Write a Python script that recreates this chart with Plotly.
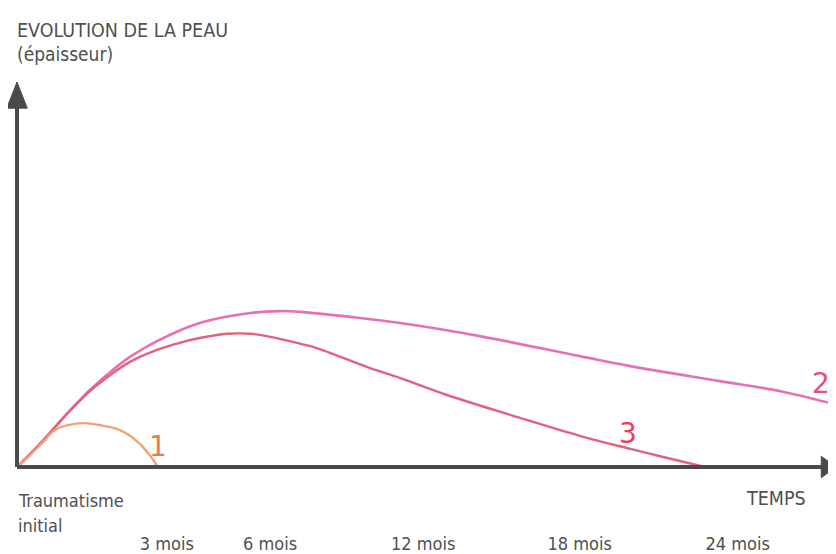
import plotly.graph_objects as go

# ---- data (schematic units: time 0-100 along the axis, thickness 0-100) ----
tick_labels = ["3 mois", "6 mois", "12 mois", "18 mois", "24 mois"]
tick_pos = [18.3, 30.9, 49.6, 68.7, 88.0]

c1_x = [0, 1.6, 3.4, 4.6, 6.2, 8.1, 10.1, 12.2, 13.8, 15.0, 16.2, 17.2]
c1_y = [0, 3.1, 7.0, 9.6, 10.9, 11.4, 10.9, 9.9, 8.1, 6.0, 3.1, 0]

c2_x = [0, 2.8, 6.1, 8.9, 11.4, 13.8, 17.1, 22.3, 28.5, 32.1, 34.6, 40.7,
        46.8, 56.5, 68.7, 74.9, 85.8, 93.2, 99.3]
c2_y = [0, 6.0, 13.8, 20.0, 24.7, 28.6, 32.7, 37.4, 40.0, 40.5, 40.3, 39.0,
        37.4, 34.0, 28.8, 26.2, 22.3, 19.7, 16.6]

c3_x = [0, 2.8, 6.1, 8.9, 11.4, 13.8, 17.1, 20.3, 22.3, 25.6, 28.5, 30.5,
        34.6, 36.6, 42.7, 46.8, 52.5, 60.6, 68.7, 74.9, 78.9, 84.0]
c3_y = [0, 6.0, 13.8, 19.7, 23.9, 27.3, 30.4, 32.5, 33.5, 34.6, 34.6, 34.0,
        32.0, 30.9, 26.0, 23.1, 18.7, 13.3, 8.1, 4.7, 2.6, 0]

curve_names = ["1", "2", "3"]

FONT = "Liberation Sans Narrow, Arial Narrow, DejaVu Sans Condensed, sans-serif"
TXT = "#505050"
AX = "#4a4a4a"

fig = go.Figure()
fig.add_trace(go.Scatter(x=c2_x, y=c2_y, mode="lines", line=dict(color="#e670b2", width=2.6, shape="spline"),
                         name=curve_names[1], hoverinfo="skip"))
fig.add_trace(go.Scatter(x=c3_x, y=c3_y, mode="lines", line=dict(color="#e3607e", width=2.4, shape="spline"),
                         name=curve_names[2], hoverinfo="skip"))
fig.add_trace(go.Scatter(x=c1_x, y=c1_y, mode="lines", line=dict(color="#f2a272", width=2.4, shape="spline"),
                         name=curve_names[0], hoverinfo="skip"))

# axes with arrowheads
fig.add_shape(type="line", xref="paper", yref="paper", x0=0, y0=0, x1=0.985, y1=0,
              line=dict(color=AX, width=4))
fig.add_shape(type="line", xref="paper", yref="paper", x0=0, y0=0, x1=0, y1=0.935,
              line=dict(color=AX, width=4))
fig.add_shape(type="path", xref="paper", yref="paper",
              path="M 0.982 0.028 L 1.0 0 L 0.982 -0.028 Z", fillcolor=AX, line=dict(color=AX, width=1))
fig.add_shape(type="path", xref="paper", yref="paper",
              path="M -0.0125 0.932 L 0 1.0 L 0.0125 0.932 Z", fillcolor=AX, line=dict(color=AX, width=1))

# curve labels
fig.add_annotation(x=17.2, y=5.2, text=curve_names[0], showarrow=False,
                   font=dict(family="DejaVu Sans", size=28, color="#f07848"))
fig.add_annotation(x=98.2, y=21.8, text=curve_names[1], showarrow=False,
                   font=dict(family="DejaVu Sans", size=28, color="#e0507e"))
fig.add_annotation(x=74.6, y=8.6, text=curve_names[2], showarrow=False,
                   font=dict(family="DejaVu Sans", size=28, color="#e84058"))

# texts
fig.add_annotation(xref="paper", yref="paper", x=-0.003, y=1.135, xanchor="left", yanchor="middle",
                   text="EVOLUTION DE LA PEAU", showarrow=False, font=dict(family=FONT, size=19.5, color=TXT))
fig.add_annotation(xref="paper", yref="paper", x=-0.003, y=1.073, xanchor="left", yanchor="middle",
                   text="(épaisseur)", showarrow=False, font=dict(family=FONT, size=19, color=TXT))
fig.add_annotation(xref="paper", yref="paper", x=-0.001, y=-0.086, xanchor="left", yanchor="middle",
                   text="Traumatisme", showarrow=False, font=dict(family=FONT, size=18, color=TXT))
fig.add_annotation(xref="paper", yref="paper", x=-0.001, y=-0.151, xanchor="left", yanchor="middle",
                   text="initial", showarrow=False, font=dict(family=FONT, size=18, color=TXT))
fig.add_annotation(xref="paper", yref="paper", x=0.927, y=-0.081, xanchor="center", yanchor="middle",
                   text="TEMPS", showarrow=False, font=dict(family=FONT, size=19.5, color=TXT))

fig.update_layout(
    width=828, height=546,
    margin=dict(l=9, r=0, t=74, b=87),
    paper_bgcolor="white", plot_bgcolor="white",
    showlegend=False,
    xaxis=dict(range=[0, 100], showgrid=False, zeroline=False, showline=False, ticks="",
               tickmode="array", tickvals=tick_pos, ticktext=tick_labels,
               tickfont=dict(family=FONT, size=18, color=TXT), ticklabelstandoff=64,
               fixedrange=True),
    yaxis=dict(range=[0, 100], visible=False, fixedrange=True),
)

fig.write_html("out.html")
